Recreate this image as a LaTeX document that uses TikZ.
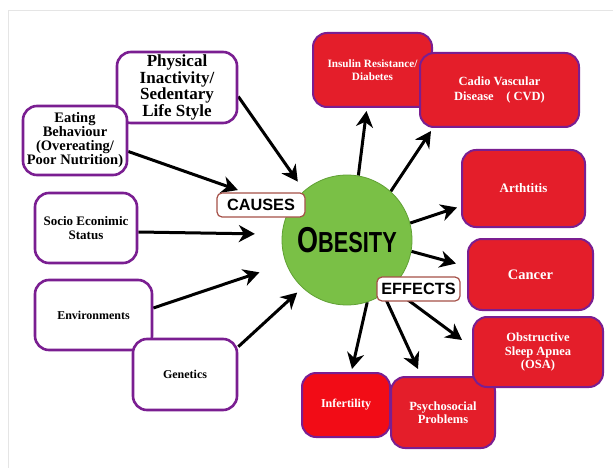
\documentclass[tikz,border=0pt]{standalone}
\usepackage{fontspec}
\setmainfont{Liberation Serif}
\newfontfamily\labelfont{Liberation Sans}
\usepackage{graphicx}
\usetikzlibrary{arrows.meta, backgrounds}
\definecolor{boxred}{RGB}{228,30,42}
\definecolor{brightred}{RGB}{242,12,22}
\definecolor{boxpurple}{RGB}{122,30,145}
\definecolor{blobgreen}{RGB}{122,192,70}
\definecolor{blobedge}{RGB}{96,160,52}
\definecolor{tagred}{RGB}{165,80,72}
\tikzset{
    cause/.style={rectangle, rounded corners=14pt, draw=boxpurple, fill=white, line width=2.6pt, inner sep=0pt, align=center, font=\bfseries\fontsize{12}{13.5}\selectfont},
    effect/.style={rectangle, rounded corners=14pt, draw=boxpurple, fill=boxred, line width=2pt, inner sep=0pt, align=center, text=white, font=\bfseries\fontsize{12}{13.5}\selectfont},
    tag/.style={rectangle, rounded corners=5pt, draw=tagred, fill=white, line width=1.2pt, inner sep=0pt, font=\labelfont\bfseries\fontsize{16.3}{18}\selectfont},
    centre/.style={circle, draw=blobedge, fill=blobgreen, line width=0.8pt, minimum size=130pt, inner sep=0pt, font=\labelfont\bfseries},
    line/.style={-{Stealth[length=16pt, width=17pt, inset=5pt]}, line width=3pt, black}
}

\begin{document}
\begin{tikzpicture}[x=1pt, y=-1pt]
    \useasboundingbox (0,0) rectangle (613,468);
    % causes
    \node (phys) [cause, minimum width=120pt, minimum height=71pt, font=\bfseries\fontsize{17}{15.2}\selectfont] at (177,87.5) {Physical\\Inactivity/\\Sedentary\\Life Style};
    \node (eat) [cause, minimum width=104pt, minimum height=69pt, font=\bfseries\fontsize{14.5}{14}\selectfont] at (75,140.5) {Eating\\Behaviour\\(Overeating/\\Poor Nutrition)};
    \node (socio) [cause, minimum width=102pt, minimum height=70pt, font=\bfseries\fontsize{13}{14}\selectfont] at (86,228) {Socio Econimic\\Status};
    \node (env) [cause, minimum width=117pt, minimum height=70pt] at (93.5,315) {Environments};
    \node (gen) [cause, minimum width=104pt, minimum height=71pt] at (185,374.5) {Genetics};

    \node (ob) [centre] at (347,240) {\scalebox{0.75}[1]{\fontsize{36}{36}\selectfont O\fontsize{29}{29}\selectfont BESITY}};

    % effects
    \node (ins) [effect, minimum width=119pt, minimum height=74pt, font=\bfseries\fontsize{11.2}{13.5}\selectfont] at (372.5,70) {Insulin Resistance/\\Diabetes};
    \node (cvd) [effect, minimum width=159pt, minimum height=74pt, font=\bfseries\fontsize{12.5}{15}\selectfont] at (499.5,90) {Cadio Vascular\\Disease \ \ \ ( CVD)};
    \node (arth) [effect, minimum width=123pt, minimum height=77pt, font=\bfseries\fontsize{13}{15}\selectfont] at (523.5,188.5) {Arthtitis};
    \node (cancer) [effect, minimum width=125pt, minimum height=71pt, font=\bfseries\fontsize{14.5}{16}\selectfont] at (530.5,274.5) {Cancer};
    \node (inf) [effect, fill=brightred, minimum width=88pt, minimum height=64pt] at (346,405) {Infertility};
    \node (psy) [effect, minimum width=104pt, minimum height=71pt, font=\bfseries\fontsize{12.5}{13.5}\selectfont] at (443,412.5) {Psychosocial\\Problems};
    \node (osa) [effect, minimum width=130pt, minimum height=70pt, font=\bfseries\fontsize{12.5}{13.5}\selectfont] at (538,352) {Obstructive\\Sleep Apnea\\(OSA)};

    \node (causes) [tag, minimum width=88pt, minimum height=24pt] at (261,205) {CAUSES};
    \node (effects) [tag, minimum width=83pt, minimum height=24pt] at (418.5,289) {EFFECTS};

    \begin{scope}[on background layer]
        \fill[white] (0,0) rectangle (613,468);
        \draw[gray!20, line width=0.8pt] (613,10) -- (8,10) -- (8,468);

        \draw[line, shorten >=11pt] ([yshift=-9pt]phys.east) -- (ob.131);
        \draw[line, shorten >=55pt] ([yshift=-11pt]eat.east) -- (ob.151);
        \draw[line, shorten >=27pt] ([yshift=-4pt]socio.east) -- (ob.175);
        \draw[line, shorten >=28pt] ([yshift=7pt]env.east) -- (ob.201);
        \draw[line, shorten >=7pt] ([yshift=-9pt]gen.north east) -- (ob.227);

        \draw[line] (ob.80) -- ([xshift=-6pt, yshift=-3pt]ins.south);
        \draw[line] (ob.48) -- ([xshift=12pt, yshift=-3pt]cvd.south west);
        \draw[line] (ob.15) -- ([xshift=-4pt, yshift=-19pt]arth.west);
        \draw[line] (ob.-10) -- ([xshift=-11pt, yshift=11pt]cancer.west);
        \draw[line] (ob.-47) -- ([xshift=-10pt, yshift=12pt]osa.west);
        \draw[line] (ob.-56) -- ([xshift=-25pt, yshift=7pt]psy.north);
        \draw[line] (ob.-72) -- ([xshift=6pt, yshift=3pt]inf.north);
    \end{scope}
\end{tikzpicture}
\end{document}
